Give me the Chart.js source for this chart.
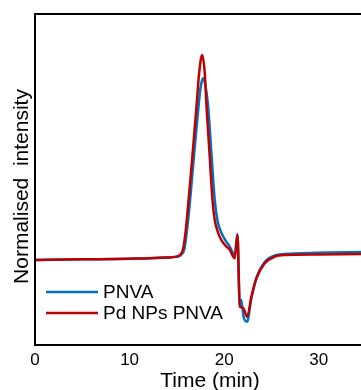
<!DOCTYPE html>
<html>
<head>
<meta charset="utf-8">
<script src="https://cdn.jsdelivr.net/npm/chart.js@4.4.0/dist/chart.umd.min.js"></script>
<style>
    html, body { margin: 0; padding: 0; background: #fff; overflow: hidden; }
    #wrap { width: 361px; height: 390px; overflow: hidden; }
</style>
</head>
<body>
<div id="wrap"><canvas id="gpc" width="385" height="390"></canvas></div>
<script>
const seriesNames = ["PNVA", "Pd NPs PNVA"];
const seriesColors = ["#0070c0", "#c00000"];

const xTickLabels = ["0", "10", "20", "30"];
const xTitle = "Time (min)";
const yTitle = "Normalised  intensity";

const pnvaTime = [0, 5, 10, 14, 14.9, 15.42, 15.8, 16.08, 16.37, 16.79, 17.2, 17.5, 17.77, 18.02, 18.3,
    18.65, 19.0, 19.3, 19.71, 20.17, 20.59, 20.94, 21.12, 21.4, 21.65, 21.8, 22.05, 22.42, 22.88, 23.41,
    24.29, 25.34, 26.4, 30, 37];
const pnvaIntensity = [0, 0.003, 0.006, 0.012, 0.015, 0.024, 0.055, 0.15, 0.28, 0.5, 0.707, 0.84, 0.886, 0.85, 0.748,
    0.52, 0.293, 0.19, 0.132, 0.093, 0.065, 0.033, 0.024, 0.127, -0.224, -0.195, -0.277, -0.301, -0.185, -0.088,
    -0.01, 0.022, 0.029, 0.035, 0.04];

const pdTime = [0, 5, 10, 14, 14.8, 15.3, 15.66, 15.95, 16.19, 16.42, 16.61, 17.07, 17.35, 17.67, 17.95,
    18.13, 18.45, 18.76, 19.0, 19.36, 19.75, 20.24, 20.6, 20.94, 21.12, 21.4, 21.65, 22.0, 22.42, 22.88,
    23.41, 24.29, 25.34, 26.4, 30, 37];
const pdIntensity = [0, 0.003, 0.006, 0.012, 0.015, 0.024, 0.055, 0.15, 0.27, 0.39, 0.49, 0.748, 0.91, 1.0, 0.91,
    0.748, 0.52, 0.293, 0.195, 0.132, 0.093, 0.065, 0.049, 0.016, 0.008, 0.122, -0.228, -0.234, -0.277, -0.179,
    -0.089, -0.016, 0.016, 0.024, 0.027, 0.03];

const toPoints = (xs, ys) => xs.map((x, i) => ({ x, y: ys[i] }));

const FONT = "'Liberation Sans', Arial, sans-serif";

// frame, y title and the inset legend
const frameAndLegend = {
    id: "frameAndLegend",
    afterDraw(chart) {
        const { ctx, chartArea } = chart;
        ctx.save();
        ctx.strokeStyle = "#000";
        ctx.lineWidth = 2;
        ctx.strokeRect(chartArea.left, chartArea.top, chartArea.right - chartArea.left, chartArea.bottom - chartArea.top);

        ctx.fillStyle = "#000";
        ctx.font = `21px ${FONT}`;
        ctx.textAlign = "center";
        ctx.textBaseline = "middle";
        ctx.save();
        ctx.translate(chartArea.left - 13, (chartArea.top + chartArea.bottom) / 2 + 7);
        ctx.rotate(-Math.PI / 2);
        ctx.fillText(yTitle, 0, 0);
        ctx.restore();

        ctx.font = `19px ${FONT}`;
        ctx.textAlign = "left";
        seriesNames.forEach((name, i) => {
            const y = chartArea.bottom - 53 + i * 21;
            ctx.strokeStyle = seriesColors[i];
            ctx.lineWidth = 2.5;
            ctx.beginPath();
            ctx.moveTo(chartArea.left + 11, y);
            ctx.lineTo(chartArea.left + 63, y);
            ctx.stroke();
            ctx.fillText(name, chartArea.left + 68, y + 1);
        });
        ctx.restore();
    }
};

new Chart(document.getElementById("gpc"), {
    type: "line",
    data: {
        datasets: [
            {
                label: seriesNames[0],
                data: toPoints(pnvaTime, pnvaIntensity),
                borderColor: seriesColors[0],
                borderWidth: 2.5,
                pointRadius: 0,
                cubicInterpolationMode: "monotone",
                order: 1
            },
            {
                label: seriesNames[1],
                data: toPoints(pdTime, pdIntensity),
                borderColor: seriesColors[1],
                borderWidth: 2.5,
                pointRadius: 0,
                cubicInterpolationMode: "monotone",
                order: 0
            }
        ]
    },
    options: {
        responsive: false,
        animation: false,
        devicePixelRatio: 1,
        layout: { padding: { top: 14, right: 0, left: 0, bottom: 0 } },
        plugins: { legend: { display: false }, tooltip: { enabled: false } },
        scales: {
            x: {
                type: "linear",
                min: 0,
                max: 37,
                grid: { display: false, drawTicks: false },
                border: { display: false },
                afterBuildTicks: (scale) => {
                    scale.ticks = xTickLabels.map((t) => ({ value: Number(t) }));
                },
                ticks: {
                    padding: 5,
                    color: "#000",
                    font: { family: FONT, size: 17 },
                    maxRotation: 0
                },
                title: {
                    display: true,
                    text: xTitle,
                    color: "#000",
                    font: { family: FONT, size: 21, lineHeight: 1 },
                    padding: { top: 0, bottom: -2 }
                },
                afterFit: (scale) => { scale.height = 45; }
            },
            y: {
                min: -0.415,
                max: 1.2,
                grid: { display: false, drawTicks: false },
                border: { display: false },
                ticks: { display: false },
                afterFit: (scale) => { scale.width = 35; }
            }
        }
    },
    plugins: [frameAndLegend]
});
</script>
</body>
</html>
